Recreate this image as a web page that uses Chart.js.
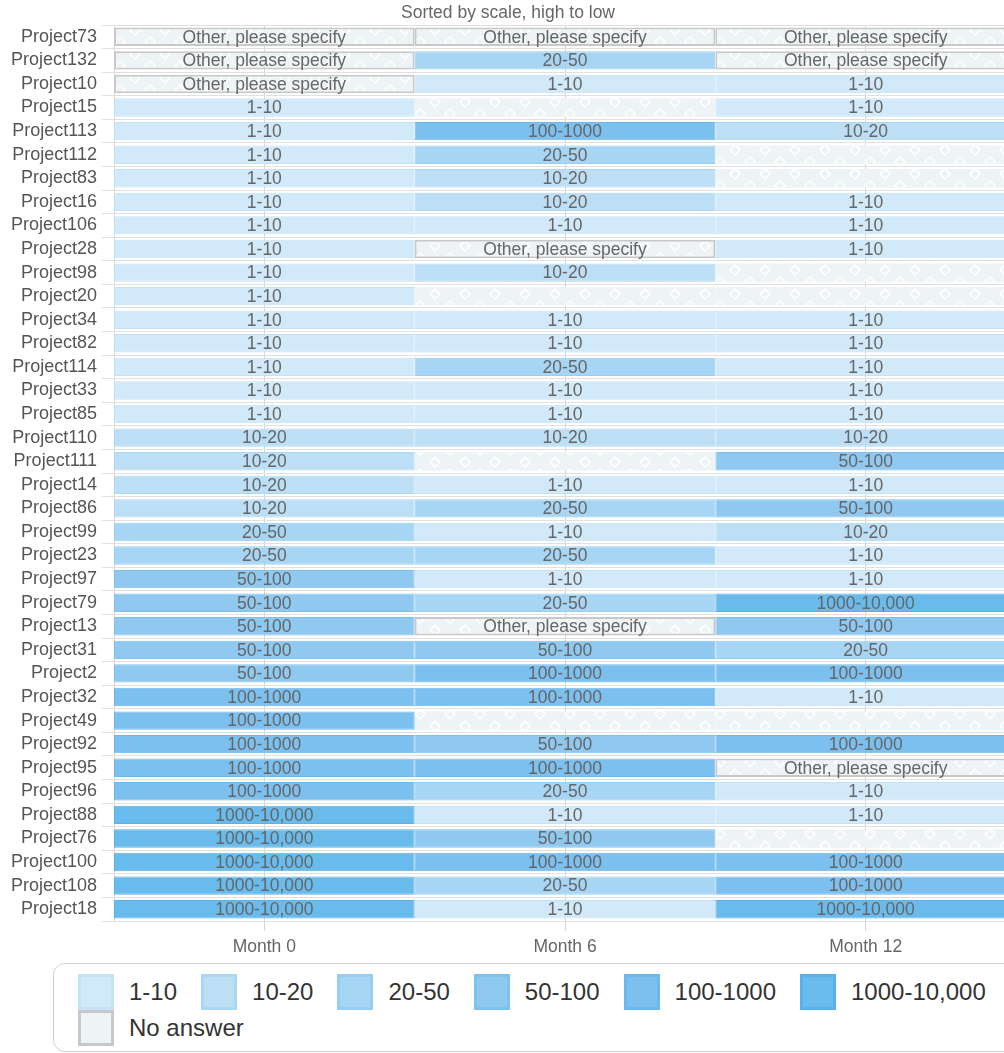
<!DOCTYPE html>
<html>
<head>
<meta charset="utf-8">
<title>Scale by project</title>
<script src="https://cdn.jsdelivr.net/npm/chart.js@4.4.1/dist/chart.umd.min.js"></script>
<style>
  html, body { margin: 0; padding: 0; background: #fff; overflow: hidden; width: 1004px; height: 1053px; }
  #wrap { position: relative; width: 1016px; height: 964px; }
  #legend {
    position: absolute; left: 53px; top: 963px; width: 1040px; height: 89px;
    box-sizing: border-box; border: 1.5px solid #cfcfcf; border-radius: 12px; background: #fff;
    padding: 10px 0 0 24px; display: flex; flex-wrap: wrap; align-content: flex-start;
    font-family: "Liberation Sans", Arial, sans-serif; font-size: 24px; color: #333;
  }
  .item { display: flex; align-items: center; height: 36px; margin-right: 24px; }
  .sw { width: 36px; height: 36px; box-sizing: border-box; border: 3px solid; margin-right: 15px; }
</style>
</head>
<body>
<div id="wrap"><canvas id="chart" width="1016" height="964"></canvas></div>
<div id="legend"></div>
<script>
// answers per project, top to bottom ("" = no answer)
const projects = ["Project73","Project132","Project10","Project15","Project113","Project112","Project83","Project16","Project106","Project28",
  "Project98","Project20","Project34","Project82","Project114","Project33","Project85","Project110","Project111","Project14",
  "Project86","Project99","Project23","Project97","Project79","Project13","Project31","Project2","Project32","Project49",
  "Project92","Project95","Project96","Project88","Project76","Project100","Project108","Project18"];

const OTHER = "Other, please specify";

const month0 = [OTHER, OTHER, OTHER, "1-10", "1-10", "1-10", "1-10", "1-10", "1-10", "1-10",
  "1-10", "1-10", "1-10", "1-10", "1-10", "1-10", "1-10", "10-20", "10-20", "10-20",
  "10-20", "20-50", "20-50", "50-100", "50-100", "50-100", "50-100", "50-100", "100-1000", "100-1000",
  "100-1000", "100-1000", "100-1000", "1000-10,000", "1000-10,000", "1000-10,000", "1000-10,000", "1000-10,000"];

const month6 = [OTHER, "20-50", "1-10", "", "100-1000", "20-50", "10-20", "10-20", "1-10", OTHER,
  "10-20", "", "1-10", "1-10", "20-50", "1-10", "1-10", "10-20", "", "1-10",
  "20-50", "1-10", "20-50", "1-10", "20-50", OTHER, "50-100", "100-1000", "100-1000", "",
  "50-100", "100-1000", "20-50", "1-10", "50-100", "100-1000", "20-50", "1-10"];

const month12 = [OTHER, OTHER, "1-10", "1-10", "10-20", "", "", "1-10", "1-10", "1-10",
  "", "", "1-10", "1-10", "1-10", "1-10", "1-10", "10-20", "50-100", "1-10",
  "50-100", "10-20", "1-10", "1-10", "1000-10,000", "50-100", "20-50", "100-1000", "1-10", "",
  "100-1000", OTHER, "1-10", "1-10", "", "100-1000", "100-1000", "1000-10,000"];

const months = ["Month 0", "Month 6", "Month 12"];
const scaleNames = ["1-10", "10-20", "20-50", "50-100", "100-1000", "1000-10,000"];
const scaleColors = ["#d1e9f9", "#bddff5", "#a7d5f4", "#8fc9f0", "#7cc0ef", "#68bbeb"];
const scaleBorders = ["#c3e2f7", "#acd7f3", "#96cdf2", "#7fc1ee", "#6cb7ec", "#58b1e8"];

const FONT = '"Liberation Sans", Arial, sans-serif';

function makePattern() {
  const c = document.createElement("canvas");
  c.width = 30; c.height = 24;
  const g = c.getContext("2d");
  g.fillStyle = "#eef3f5";
  g.fillRect(0, 0, 30, 24);
  g.strokeStyle = "#ffffff";
  g.lineWidth = 1.5;
  const diamond = (x, y) => {
    g.beginPath();
    g.moveTo(x, y - 5); g.lineTo(x + 5, y); g.lineTo(x, y + 5); g.lineTo(x - 5, y);
    g.closePath(); g.stroke();
  };
  diamond(15, 6); diamond(0, 18); diamond(30, 18);
  return g.createPattern(c, "repeat");
}
const pattern = makePattern();

function fillFor(v) {
  const k = scaleNames.indexOf(v);
  return k < 0 ? pattern : scaleColors[k];
}
function borderFor(v) {
  if (v === OTHER) return "#c8c8c8";
  const k = scaleNames.indexOf(v);
  return k < 0 ? "rgba(0,0,0,0)" : scaleBorders[k];
}
function borderWidthFor(v) {
  if (v === OTHER) return 2;
  return v ? 1 : 0;
}

const answers = [month0, month6, month12];

const cellText = {
  id: "cellText",
  afterDraw(chart) {
    const ctx = chart.ctx;
    ctx.save();
    ctx.font = "17.5px " + FONT;
    ctx.fillStyle = "#666";
    ctx.textAlign = "center";
    ctx.textBaseline = "middle";
    chart.data.datasets.forEach((ds, di) => {
      chart.getDatasetMeta(di).data.forEach((bar, i) => {
        const t = ds.answers[i];
        if (!t) return;
        const p = bar.getCenterPoint();
        ctx.fillText(t, p.x, p.y + 1);
      });
    });
    ctx.restore();
  }
};

new Chart(document.getElementById("chart"), {
  type: "bar",
  data: {
    labels: projects,
    datasets: months.map((m, k) => ({
      label: m,
      answers: answers[k],
      data: projects.map(() => 1),
      backgroundColor: c => fillFor(answers[k][c.dataIndex]),
      borderColor: c => borderFor(answers[k][c.dataIndex]),
      borderWidth: c => borderWidthFor(answers[k][c.dataIndex]),
      borderSkipped: false,
      barPercentage: 0.78,
      categoryPercentage: 1
    }))
  },
  options: {
    indexAxis: "y",
    responsive: false,
    animation: false,
    layout: { padding: 0 },
    plugins: {
      legend: { display: false },
      tooltip: { enabled: false },
      title: {
        display: true,
        text: "Sorted by scale, high to low",
        color: "#666",
        font: { family: FONT, size: 17.5, weight: "normal" },
        padding: { top: 3, bottom: 1 }
      }
    },
    scales: {
      x: {
        type: "linear",
        stacked: true,
        min: 0,
        max: 3,
        z: 1,
        afterBuildTicks: s => { s.ticks = [0.5, 1.5, 2.5].map(v => ({ value: v })); },
        ticks: {
          callback: v => months[Math.floor(v)],
          color: "#666",
          font: { family: FONT, size: 17.5 },
          padding: 6
        },
        grid: { color: "#d6d6d6", tickLength: 10 },
        border: { display: false }
      },
      y: {
        stacked: true,
        z: 1,
        afterFit: s => { s.width = 114; },
        ticks: {
          color: "#555",
          font: { family: FONT, size: 18 },
          padding: 5,
          autoSkip: false
        },
        grid: { color: "#e0e0e0", tickLength: 12, offset: true },
        border: { color: "#dcdcdc" }
      }
    }
  },
  plugins: [cellText]
});

// legend
const legend = document.getElementById("legend");
scaleNames.concat(["No answer"]).forEach((name, k) => {
  const item = document.createElement("div");
  item.className = "item";
  const sw = document.createElement("span");
  sw.className = "sw";
  sw.style.background = k < scaleColors.length ? scaleColors[k] : "#eef3f5";
  sw.style.borderColor = k < scaleBorders.length ? scaleBorders[k] : "#c8c8cc";
  const txt = document.createElement("span");
  txt.textContent = name;
  item.appendChild(sw);
  item.appendChild(txt);
  legend.appendChild(item);
});
</script>
</body>
</html>
